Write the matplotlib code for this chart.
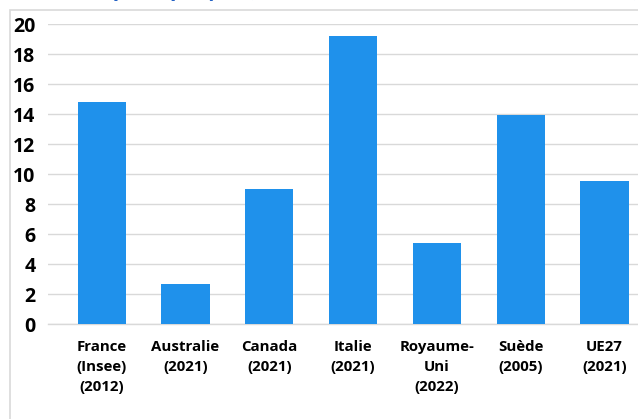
import matplotlib
matplotlib.use("Agg")
import matplotlib.pyplot as plt
from matplotlib.patches import Rectangle
import numpy as np

plt.rcParams["font.family"] = ["Open Sans", "DejaVu Sans"]

# données
pays = ["France\n(Insee)\n(2012)", "Australie\n(2021)", "Canada\n(2021)",
        "Italie\n(2021)", "Royaume-\nUni\n(2022)", "Suède\n(2005)",
        "UE27\n(2021)"]
valeurs = [14.8, 2.7, 9.0, 19.2, 5.4, 13.95, 9.55]
y_ticks = [0, 2, 4, 6, 8, 10, 12, 14, 16, 18, 20]

TITRE_DEBUT = "Travail de nuit "
TITRE_FIN   = "par pays (en % du total des salariés)"

BAR_COLOR   = "#1F91EB"
GRID_COLOR  = "#D9D9D9"
TITLE_COLOR = "#2462C4"

W, H = 638, 419
fig = plt.figure(figsize=(W / 100, H / 100), dpi=100)

# cadre du graphique (coupé en haut / à droite dans l'original)
fig.add_artist(Rectangle((10 / W, -0.5), 2, 1.5 - 10 / H,
                         transform=fig.transFigure, fill=False,
                         edgecolor=GRID_COLOR, linewidth=1.2))

# titre coupé : seuls les jambages dépassent du haut de l'image
title_kw = dict(color=TITLE_COLOR, fontsize=24.5, va="baseline",
                family=["Lato", "DejaVu Sans"])
fig.text(112 / W, 1 + 5 / H, TITRE_DEBUT, ha="right", **title_kw)
fig.text(112 / W, 1 + 5 / H, TITRE_FIN, ha="left", **title_kw)

ax = fig.add_axes([48 / W, 1 - 324.3 / H, 1 - 48 / W, 300 / H])
x = np.arange(len(pays))
ax.bar(x, valeurs, width=0.575, color=BAR_COLOR, zorder=3)

ax.set_ylim(0, 20)
ax.set_xlim(-0.64, 6.40)
ax.set_yticks(y_ticks)
ax.set_yticklabels([str(v) for v in y_ticks], fontsize=14, fontweight="bold")
ax.set_xticks(x)
ax.set_xticklabels(pays, fontsize=10.8, fontweight="bold", linespacing=1.55)
ax.tick_params(axis="both", length=0)
ax.tick_params(axis="y", pad=9)
ax.tick_params(axis="x", pad=11)

ax.grid(axis="y", color=GRID_COLOR, linewidth=1, zorder=0)
for s in ["top", "right", "left"]:
    ax.spines[s].set_visible(False)
ax.spines["bottom"].set_color(GRID_COLOR)
ax.spines["bottom"].set_linewidth(1)

fig.savefig("out.png", dpi=100)
